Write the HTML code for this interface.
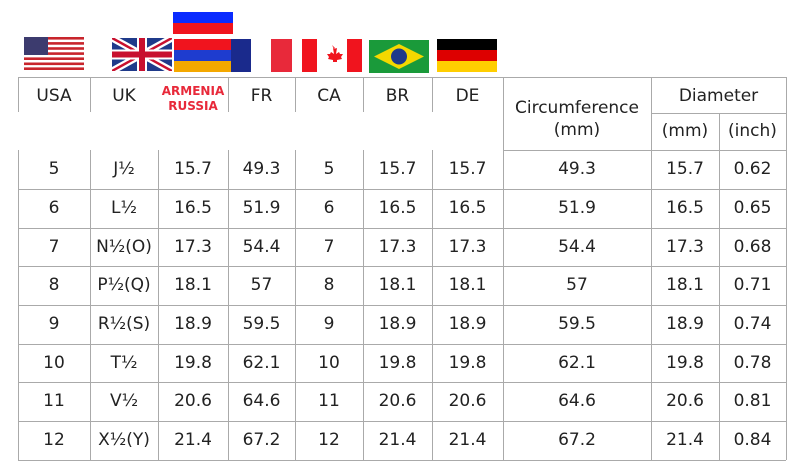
<!DOCTYPE html>
<html><head><meta charset="utf-8"><style>
body{margin:0;width:793px;height:465px;background:#fff;position:relative;overflow:hidden;font-family:"DejaVu Sans","Liberation Sans",sans-serif;color:#222}
.h{position:absolute;height:1px;background:#aaa}
.v{position:absolute;width:1px;background:#aaa}
.t{position:absolute;text-align:center;font-size:17px;line-height:39px;height:39px}
.hd{position:absolute;text-align:center;font-size:17px}
.f{position:absolute}
</style></head><body>
<!-- flags -->
<svg class="f" style="left:24px;top:37px" width="60" height="33" viewBox="0 0 60 33">
<rect width="60" height="33" fill="#fff"/>
<g fill="#c8252c"><rect y="0" width="60" height="2.6"/><rect y="5.1" width="60" height="2.6"/><rect y="10.2" width="60" height="2.6"/><rect y="15.3" width="60" height="2.6"/><rect y="20.4" width="60" height="2.6"/><rect y="25.5" width="60" height="2.6"/><rect y="30.4" width="60" height="2.6"/></g>
<rect width="24" height="18" fill="#3c3b6e"/></svg>
<svg class="f" style="left:112px;top:38px" width="60" height="33" viewBox="0 0 60 33">
<rect width="60" height="33" fill="#1f3a8a"/>
<path d="M0 0L60 33M60 0L0 33" stroke="#fff" stroke-width="7"/>
<path d="M0 0L60 33M60 0L0 33" stroke="#c8102e" stroke-width="2.5"/>
<path d="M30 0V33M0 16.5H60" stroke="#fff" stroke-width="10"/>
<path d="M30 0V33M0 16.5H60" stroke="#c8102e" stroke-width="6"/></svg>
<svg class="f" style="left:173px;top:12px" width="60" height="22"><rect width="60" height="11" fill="#0a2bff"/><rect y="11" width="60" height="11" fill="#f0141e"/></svg>
<svg class="f" style="left:174px;top:39px" width="57" height="33"><rect width="57" height="11" fill="#f0141e"/><rect y="11" width="57" height="11" fill="#1e3ccf"/><rect y="22" width="57" height="11" fill="#f4a800"/></svg>
<svg class="f" style="left:231px;top:39px" width="61" height="33"><rect width="20" height="33" fill="#1a2a8c"/><rect x="40" width="21" height="33" fill="#e8293a"/></svg>
<svg class="f" style="left:302px;top:39px" width="60" height="33" viewBox="0 0 60 33"><rect width="60" height="33" fill="#fff"/><rect width="15" height="33" fill="#f0141e"/><rect x="45" width="15" height="33" fill="#f0141e"/><path d="M30 6l2 4 3-1-1 6 3-2 1 2 3 0-2 3 1 2-5 1 0 2h-4l0-2-5-1 1-2-2-3 3 0 1-2 3 2-1-6 3 1z" fill="#f0141e"/></svg>
<svg class="f" style="left:369px;top:40px" width="60" height="33"><rect width="60" height="33" fill="#1a9a3a"/><path d="M30 4L55 16.5 30 29 5 16.5z" fill="#f4d800"/><circle cx="30" cy="16.5" r="8" fill="#1e3a8a"/></svg>
<svg class="f" style="left:437px;top:39px" width="60" height="33"><rect width="60" height="11" fill="#000"/><rect y="11" width="60" height="11" fill="#dd0000"/><rect y="22" width="60" height="11" fill="#ffce00"/></svg>

<!-- grid -->
<div class="h" style="left:18px;top:77px;width:768px"></div>
<div class="h" style="left:651px;top:113px;width:135px"></div>
<div class="h" style="left:503px;top:150px;width:283px"></div>
<div class="h" style="left:18px;top:189px;width:768px"></div>
<div class="h" style="left:18px;top:228px;width:768px"></div>
<div class="h" style="left:18px;top:266px;width:768px"></div>
<div class="h" style="left:18px;top:305px;width:768px"></div>
<div class="h" style="left:18px;top:344px;width:768px"></div>
<div class="h" style="left:18px;top:382px;width:768px"></div>
<div class="h" style="left:18px;top:421px;width:768px"></div>
<div class="h" style="left:18px;top:460px;width:768px"></div>
<div class="v" style="left:18px;top:77px;height:35px"></div><div class="v" style="left:18px;top:150px;height:310px"></div>
<div class="v" style="left:90px;top:77px;height:35px"></div><div class="v" style="left:90px;top:150px;height:310px"></div>
<div class="v" style="left:158px;top:150px;height:310px"></div>
<div class="v" style="left:228px;top:77px;height:35px"></div><div class="v" style="left:228px;top:150px;height:310px"></div>
<div class="v" style="left:295px;top:77px;height:35px"></div><div class="v" style="left:295px;top:150px;height:310px"></div>
<div class="v" style="left:363px;top:77px;height:35px"></div><div class="v" style="left:363px;top:150px;height:310px"></div>
<div class="v" style="left:432px;top:77px;height:35px"></div><div class="v" style="left:432px;top:150px;height:310px"></div>
<div class="v" style="left:503px;top:77px;height:383px"></div>
<div class="v" style="left:651px;top:77px;height:383px"></div>
<div class="v" style="left:719px;top:113px;height:347px"></div>
<div class="v" style="left:786px;top:77px;height:383px"></div>

<!-- headers -->
<div class="hd" style="left:18px;width:72px;top:86px">USA</div>
<div class="hd" style="left:90px;width:68px;top:86px">UK</div>
<div class="hd" style="left:158px;width:70px;top:84px;font-size:12px;line-height:15px;color:#e8293a;font-weight:bold">ARMENIA<br>RUSSIA</div>
<div class="hd" style="left:228px;width:67px;top:86px">FR</div>
<div class="hd" style="left:295px;width:68px;top:86px">CA</div>
<div class="hd" style="left:363px;width:69px;top:86px">BR</div>
<div class="hd" style="left:432px;width:71px;top:86px">DE</div>
<div class="hd" style="left:503px;width:148px;top:97px;line-height:22px">Circumference<br>(mm)</div>
<div class="hd" style="left:651px;width:135px;top:86px">Diameter</div>
<div class="hd" style="left:651px;width:68px;top:121px">(mm)</div>
<div class="hd" style="left:719px;width:67px;top:121px">(inch)</div>

<!-- rows -->
<div style="position:absolute;left:0;top:150px">
<div class="t" style="left:18px;width:72px;top:0">5</div><div class="t" style="left:90px;width:68px;top:0">J½</div><div class="t" style="left:158px;width:70px;top:0">15.7</div><div class="t" style="left:228px;width:67px;top:0">49.3</div><div class="t" style="left:295px;width:68px;top:0">5</div><div class="t" style="left:363px;width:69px;top:0">15.7</div><div class="t" style="left:432px;width:71px;top:0">15.7</div><div class="t" style="left:503px;width:148px;top:0">49.3</div><div class="t" style="left:651px;width:68px;top:0">15.7</div><div class="t" style="left:719px;width:67px;top:0">0.62</div>
<div class="t" style="left:18px;width:72px;top:39px">6</div><div class="t" style="left:90px;width:68px;top:39px">L½</div><div class="t" style="left:158px;width:70px;top:39px">16.5</div><div class="t" style="left:228px;width:67px;top:39px">51.9</div><div class="t" style="left:295px;width:68px;top:39px">6</div><div class="t" style="left:363px;width:69px;top:39px">16.5</div><div class="t" style="left:432px;width:71px;top:39px">16.5</div><div class="t" style="left:503px;width:148px;top:39px">51.9</div><div class="t" style="left:651px;width:68px;top:39px">16.5</div><div class="t" style="left:719px;width:67px;top:39px">0.65</div>
<div class="t" style="left:18px;width:72px;top:78px">7</div><div class="t" style="left:90px;width:68px;top:78px">N½(O)</div><div class="t" style="left:158px;width:70px;top:78px">17.3</div><div class="t" style="left:228px;width:67px;top:78px">54.4</div><div class="t" style="left:295px;width:68px;top:78px">7</div><div class="t" style="left:363px;width:69px;top:78px">17.3</div><div class="t" style="left:432px;width:71px;top:78px">17.3</div><div class="t" style="left:503px;width:148px;top:78px">54.4</div><div class="t" style="left:651px;width:68px;top:78px">17.3</div><div class="t" style="left:719px;width:67px;top:78px">0.68</div>
<div class="t" style="left:18px;width:72px;top:116px">8</div><div class="t" style="left:90px;width:68px;top:116px">P½(Q)</div><div class="t" style="left:158px;width:70px;top:116px">18.1</div><div class="t" style="left:228px;width:67px;top:116px">57</div><div class="t" style="left:295px;width:68px;top:116px">8</div><div class="t" style="left:363px;width:69px;top:116px">18.1</div><div class="t" style="left:432px;width:71px;top:116px">18.1</div><div class="t" style="left:503px;width:148px;top:116px">57</div><div class="t" style="left:651px;width:68px;top:116px">18.1</div><div class="t" style="left:719px;width:67px;top:116px">0.71</div>
<div class="t" style="left:18px;width:72px;top:155px">9</div><div class="t" style="left:90px;width:68px;top:155px">R½(S)</div><div class="t" style="left:158px;width:70px;top:155px">18.9</div><div class="t" style="left:228px;width:67px;top:155px">59.5</div><div class="t" style="left:295px;width:68px;top:155px">9</div><div class="t" style="left:363px;width:69px;top:155px">18.9</div><div class="t" style="left:432px;width:71px;top:155px">18.9</div><div class="t" style="left:503px;width:148px;top:155px">59.5</div><div class="t" style="left:651px;width:68px;top:155px">18.9</div><div class="t" style="left:719px;width:67px;top:155px">0.74</div>
<div class="t" style="left:18px;width:72px;top:194px">10</div><div class="t" style="left:90px;width:68px;top:194px">T½</div><div class="t" style="left:158px;width:70px;top:194px">19.8</div><div class="t" style="left:228px;width:67px;top:194px">62.1</div><div class="t" style="left:295px;width:68px;top:194px">10</div><div class="t" style="left:363px;width:69px;top:194px">19.8</div><div class="t" style="left:432px;width:71px;top:194px">19.8</div><div class="t" style="left:503px;width:148px;top:194px">62.1</div><div class="t" style="left:651px;width:68px;top:194px">19.8</div><div class="t" style="left:719px;width:67px;top:194px">0.78</div>
<div class="t" style="left:18px;width:72px;top:232px">11</div><div class="t" style="left:90px;width:68px;top:232px">V½</div><div class="t" style="left:158px;width:70px;top:232px">20.6</div><div class="t" style="left:228px;width:67px;top:232px">64.6</div><div class="t" style="left:295px;width:68px;top:232px">11</div><div class="t" style="left:363px;width:69px;top:232px">20.6</div><div class="t" style="left:432px;width:71px;top:232px">20.6</div><div class="t" style="left:503px;width:148px;top:232px">64.6</div><div class="t" style="left:651px;width:68px;top:232px">20.6</div><div class="t" style="left:719px;width:67px;top:232px">0.81</div>
<div class="t" style="left:18px;width:72px;top:271px">12</div><div class="t" style="left:90px;width:68px;top:271px">X½(Y)</div><div class="t" style="left:158px;width:70px;top:271px">21.4</div><div class="t" style="left:228px;width:67px;top:271px">67.2</div><div class="t" style="left:295px;width:68px;top:271px">12</div><div class="t" style="left:363px;width:69px;top:271px">21.4</div><div class="t" style="left:432px;width:71px;top:271px">21.4</div><div class="t" style="left:503px;width:148px;top:271px">67.2</div><div class="t" style="left:651px;width:68px;top:271px">21.4</div><div class="t" style="left:719px;width:67px;top:271px">0.84</div>
</div>
</body></html>
